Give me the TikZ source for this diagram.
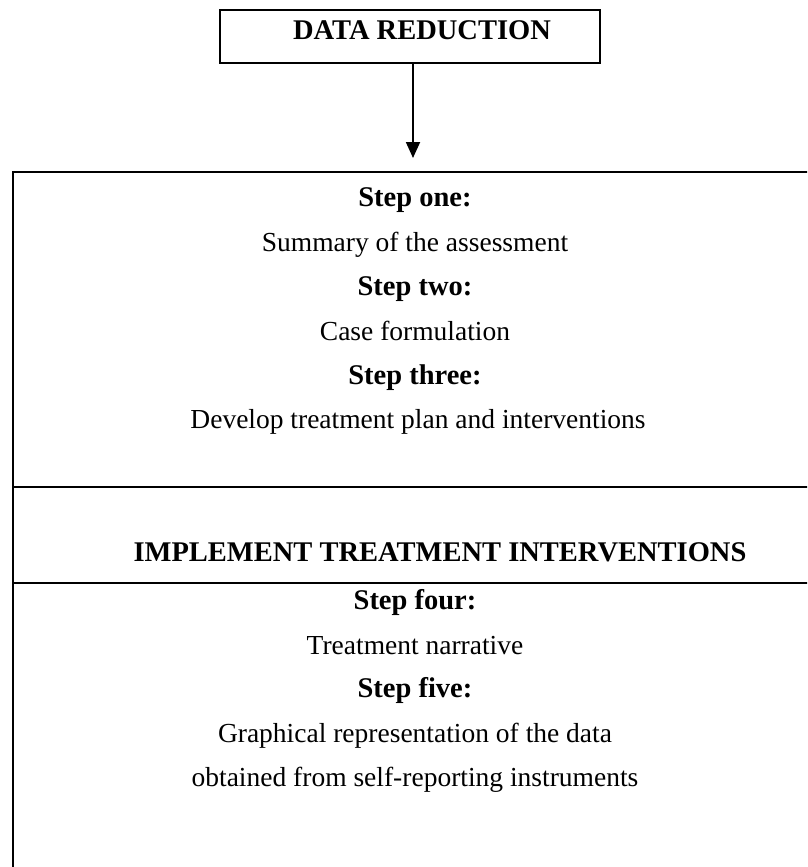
\documentclass[tikz,border=0pt]{standalone}
\usepackage{fontspec}
\setmainfont{Liberation Serif}
\usetikzlibrary{arrows.meta}
\begin{document}
\begin{tikzpicture}[x=1pt,y=-1pt,
  frame/.style={draw=black, line width=2pt},
  lbl/.style={anchor=base, inner sep=0pt, font=\fontsize{27.5}{33}\selectfont},
  hd/.style={anchor=base, inner sep=0pt, font=\fontsize{28.5}{34}\selectfont\bfseries}]
\useasboundingbox (0,0) rectangle (807,867);
\clip (0,0) rectangle (807,867);
\fill[white] (0,0) rectangle (807,867);
% top box
\node[frame, minimum width=380pt, minimum height=53pt, inner sep=0pt] (dr) at (410,36.5) {};
\node[hd] (drt) at (422,40) {DATA REDUCTION};
\coordinate (tip) at (413,158);
\draw[line width=1.8pt, -{Triangle[length=16pt,width=14pt]}] (dr.south -| tip) -- (tip);
% big box
\coordinate (tl) at (12.7,172);
\coordinate (tr) at (820,172);
\coordinate (bl) at (12.7,880);
\coordinate (d1l) at (12.7,487);
\coordinate (d1r) at (820,487);
\coordinate (d2l) at (12.7,583);
\coordinate (d2r) at (820,583);
\draw[frame] (tr) -- (tl) -- (bl);
\draw[frame] (d1l) -- (d1r);
\draw[frame] (d2l) -- (d2r);
% texts
\node[hd]  (s1)  at (415,206) {Step one:};
\node[lbl] (t1)  at (415,251) {Summary of the assessment};
\node[hd]  (s2)  at (415,295) {Step two:};
\node[lbl] (t2)  at (415,340) {Case formulation};
\node[hd]  (s3)  at (415,384) {Step three:};
\node[lbl] (t3)  at (418,428) {Develop treatment plan and interventions};
\node[hd]  (imp) at (440,561) {IMPLEMENT TREATMENT INTERVENTIONS};
\node[hd]  (s4)  at (415,609) {Step four:};
\node[lbl] (t4)  at (415,654) {Treatment narrative};
\node[hd]  (s5)  at (415,697) {Step five:};
\node[lbl] (t5)  at (415,742) {Graphical representation of the data};
\node[lbl] (t6)  at (415,786) {obtained from self-reporting instruments};
\end{tikzpicture}
\end{document}
